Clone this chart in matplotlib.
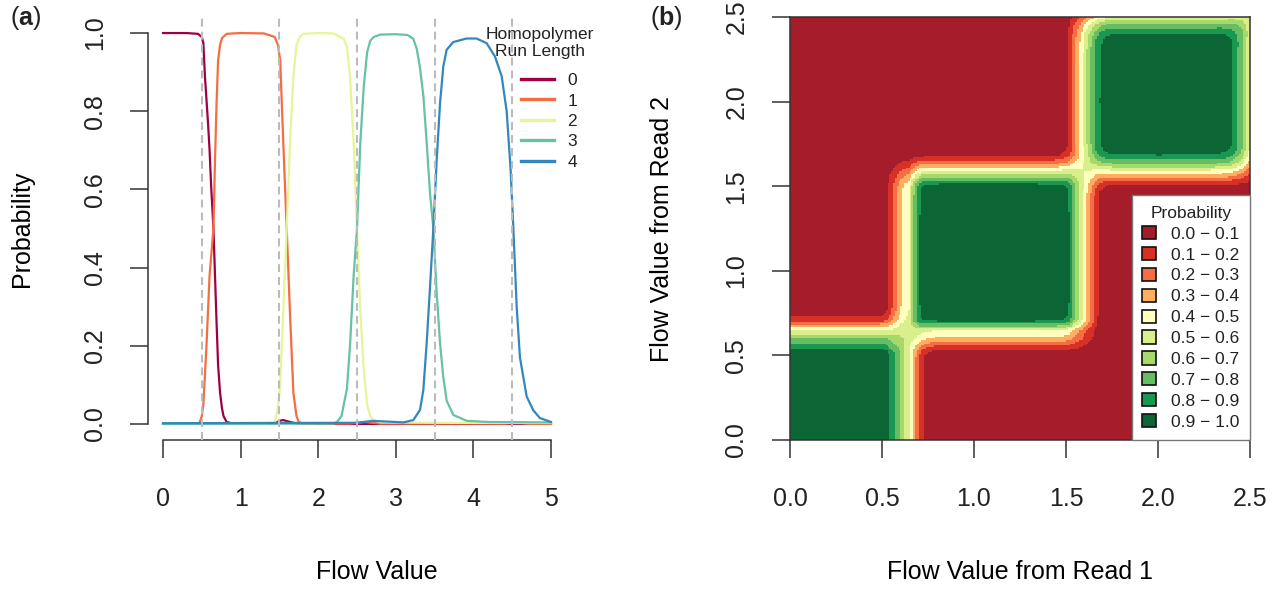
import numpy as np
import matplotlib.pyplot as plt
from matplotlib.colors import ListedColormap, BoundaryNorm
from matplotlib.patches import Patch

plt.rcParams['font.family'] = ['Liberation Sans', 'DejaVu Sans']
plt.rcParams['mathtext.fontset'] = 'custom'
plt.rcParams['mathtext.rm'] = 'Liberation Sans'
plt.rcParams['mathtext.bf'] = 'Liberation Sans:bold'
plt.rcParams['text.color'] = '#222222'

# probability of each homopolymer run length vs flow value
flow_0 = [0, 0.3, 0.45, 0.5, 0.52, 0.54, 0.56, 0.58, 0.6, 0.62, 0.65, 0.67, 0.69,
          0.71, 0.735, 0.76, 0.78, 0.82, 0.9, 1.2, 1.45, 1.5, 1.55, 1.6, 1.7, 2.0, 5.0]
prob_0 = [1.0, 1.0, 0.998, 0.99, 0.974, 0.89, 0.83, 0.77, 0.70, 0.61, 0.50, 0.38, 0.26,
          0.15, 0.08, 0.04, 0.02, 0.005, 0.001, 0.001, 0.002, 0.008, 0.010, 0.007, 0.002, 0.0, 0.0]

flow_1 = [0, 0.45, 0.47, 0.5, 0.52, 0.56, 0.6, 0.65, 0.67, 0.69, 0.71, 0.735, 0.76, 0.82,
          1.0, 1.3, 1.44, 1.48, 1.51, 1.55, 1.594, 1.637, 1.68, 1.72, 1.75, 1.8, 2.4,
          2.6, 2.8, 4.4, 4.55, 4.7, 5.0]
prob_1 = [0.0, 0.0, 0.003, 0.02, 0.05, 0.2, 0.38, 0.5, 0.675, 0.82, 0.93, 0.97, 0.987, 0.998,
          1.0, 0.999, 0.99, 0.97, 0.93, 0.72, 0.5, 0.28, 0.08, 0.02, 0.005, 0.001, 0.001,
          0.005, 0.001, 0.001, 0.004, 0.001, 0.001]

flow_2 = [0, 1.3, 1.44, 1.48, 1.508, 1.55, 1.594, 1.637, 1.68, 1.72, 1.76, 1.81, 2.0, 2.2,
          2.28, 2.33, 2.37, 2.41, 2.457, 2.5, 2.543, 2.586, 2.63, 2.67, 2.715, 2.8, 3.5, 5.0]
prob_2 = [0.0, 0.0, 0.005, 0.04, 0.095, 0.29, 0.5, 0.72, 0.89, 0.97, 0.99, 0.998, 1.0, 0.999,
          0.99, 0.985, 0.965, 0.89, 0.72, 0.5, 0.29, 0.14, 0.05, 0.02, 0.01, 0.004, 0.003, 0.002]

flow_3 = [0, 2.2, 2.24, 2.3, 2.37, 2.41, 2.457, 2.5, 2.543, 2.586, 2.63, 2.67, 2.715, 2.8,
          3.0, 3.15, 3.226, 3.27, 3.312, 3.355, 3.398, 3.441, 3.484, 3.527, 3.57, 3.612,
          3.655, 3.741, 3.914, 4.2, 5.0]
prob_3 = [0.0, 0.001, 0.005, 0.02, 0.09, 0.2, 0.38, 0.5, 0.72, 0.86, 0.95, 0.98, 0.99, 0.996,
          0.997, 0.995, 0.985, 0.96, 0.91, 0.84, 0.72, 0.59, 0.5, 0.335, 0.207, 0.12,
          0.06, 0.023, 0.008, 0.005, 0.004]

flow_4 = [0, 2.5, 2.7, 2.9, 3.1, 3.226, 3.312, 3.355, 3.398, 3.441, 3.484, 3.527, 3.57, 3.612,
          3.655, 3.741, 3.914, 4.042, 4.171, 4.278, 4.364, 4.429, 4.48, 4.515, 4.558, 4.6,
          4.687, 4.772, 4.858, 4.987, 5.0]
prob_4 = [0.002, 0.003, 0.008, 0.006, 0.004, 0.01, 0.036, 0.087, 0.207, 0.35, 0.5, 0.675, 0.82,
          0.914, 0.957, 0.977, 0.986, 0.986, 0.974, 0.94, 0.89, 0.80, 0.65, 0.5, 0.3, 0.17,
          0.07, 0.035, 0.015, 0.006, 0.005]

run_lengths = ['0', '1', '2', '3', '4']
line_colors = ['#9E0142', '#F46D43', '#E6F598', '#66C2A5', '#3288BD']
flows = [flow_0, flow_1, flow_2, flow_3, flow_4]
probs = [prob_0, prob_1, prob_2, prob_3, prob_4]

# heatmap bins
bin_edges = [0.0, 0.1, 0.2, 0.3, 0.4, 0.5, 0.6, 0.7, 0.8, 0.9, 1.0]
bin_colors = ['#A51C2A', '#D73027', '#F46D43', '#FDAE61', '#FFFFBF',
              '#D9EF8B', '#A6D96A', '#66BD63', '#1A9850', '#0B6535']

fig = plt.figure(figsize=(12.81, 5.90), dpi=100)
W, H = 1281, 590

def px_axes(x0, x1, ytop, ybot):
    return fig.add_axes([x0 / W, 1 - ybot / H, (x1 - x0) / W, (ybot - ytop) / H])

dark = '#333333'

# ---------------- panel (a)
ax1 = px_axes(147.5, 566.5, 17.4, 439.6)
for f, p, c, lab in zip(flows, probs, line_colors, run_lengths):
    ax1.plot(f, p, color=c, lw=1.6, label=lab, zorder=2)
for v in [0.5, 1.5, 2.5, 3.5, 4.5]:
    ax1.axvline(v, color='#BBBBBB', lw=1.5, dashes=(3.8, 2.4), zorder=3)
ax1.set_xlim(-0.2, 5.2)
ax1.set_ylim(-0.04, 1.04)
ax1.set_xticks([0, 1, 2, 3, 4, 5])
ax1.set_yticks([0, 0.2, 0.4, 0.6, 0.8, 1.0])
ax1.set_yticklabels(['0.0', '0.2', '0.4', '0.6', '0.8', '1.0'])
for s in ['top', 'right']:
    ax1.spines[s].set_visible(False)
ax1.spines['bottom'].set_bounds(0, 5)
ax1.spines['left'].set_bounds(0, 1)
for s in ['bottom', 'left']:
    ax1.spines[s].set_color(dark)
    ax1.spines[s].set_linewidth(1.1)
ax1.tick_params(axis='both', direction='out', length=13, width=1.1, color=dark,
                labelsize=18, labelcolor='#222222')
ax1.tick_params(axis='x', pad=21)
ax1.tick_params(axis='y', pad=16)
plt.setp(ax1.get_yticklabels(), rotation=90, va='center')
ax1.set_xlabel('Flow Value', fontsize=18, va='center')
ax1.xaxis.set_label_coords(0.5465, -0.3136)
ax1.set_ylabel('Probability', fontsize=18, va='center')
ax1.yaxis.set_label_coords(-0.2995, 0.5)

fig.text(540 / W, 1 - 43 / H, 'Homopolymer\nRun Length', fontsize=12.5,
         ha='center', va='center', linespacing=1.15)
leg1 = ax1.legend(frameon=False, fontsize=12.5, loc='upper right',
                  bbox_to_anchor=(577 / W, 1 - 73 / H), bbox_transform=fig.transFigure,
                  borderpad=0, borderaxespad=0, handlelength=1.9, handletextpad=0.75,
                  labelspacing=0.3)
for h in leg1.legend_handles:
    h.set_linewidth(2.4)

# ---------------- panel (b)
ax2 = px_axes(790, 1250, 17, 440)
n = 250
centers = (np.arange(n) + 0.5) * 2.5 / n
same = np.zeros((n, n))
for f, p in zip(flows, probs):
    pk = np.interp(centers, f, p)
    same += np.outer(pk, pk)
cmap = ListedColormap(bin_colors)
norm = BoundaryNorm(bin_edges, cmap.N)
ax2.imshow(same, origin='lower', extent=[0, 2.5, 0, 2.5], aspect='auto',
           cmap=cmap, norm=norm, interpolation='nearest')
ax2.set_xlim(0, 2.5)
ax2.set_ylim(0, 2.5)
ticks = [0, 0.5, 1.0, 1.5, 2.0, 2.5]
tick_labels = ['0.0', '0.5', '1.0', '1.5', '2.0', '2.5']
ax2.set_xticks(ticks)
ax2.set_xticklabels(tick_labels)
ax2.set_yticks(ticks)
ax2.set_yticklabels(tick_labels)
for s in ax2.spines.values():
    s.set_color(dark)
    s.set_linewidth(1.1)
ax2.tick_params(axis='both', direction='out', length=13, width=1.1, color=dark,
                labelsize=18, labelcolor='#222222')
ax2.tick_params(axis='x', pad=21)
ax2.tick_params(axis='y', pad=17)
plt.setp(ax2.get_yticklabels(), rotation=90, va='center')
ax2.set_xlabel('Flow Value from Read 1', fontsize=18, va='center')
ax2.xaxis.set_label_coords(0.5, -0.312)
ax2.set_ylabel('Flow Value from Read 2', fontsize=18, va='center')
ax2.yaxis.set_label_coords(-0.278, 0.5)

bin_handles = [Patch(facecolor=c, edgecolor='#111111', lw=1.2) for c in bin_colors]
bin_labels = [f'{lo:.1f} \u2212 {hi:.1f}' for lo, hi in zip(bin_edges[:-1], bin_edges[1:])]
leg2 = ax2.legend(bin_handles, bin_labels, title='Probability', fontsize=12.5,
                  title_fontsize=12.5, loc='lower right', bbox_to_anchor=(1, 0),
                  borderaxespad=0, fancybox=False, framealpha=1, edgecolor='#777777',
                  borderpad=0.6, handlelength=0.8, handleheight=0.8,
                  handletextpad=0.86, labelspacing=0.3)
leg2.get_frame().set_linewidth(1.0)

fig.text(10 / W, 1 - 18 / H, r'($\mathbf{a}$)', fontsize=18, va='center', ha='left')
fig.text(650 / W, 1 - 18 / H, r'($\mathbf{b}$)', fontsize=18, va='center', ha='left')

fig.savefig('out.png', dpi=100)
